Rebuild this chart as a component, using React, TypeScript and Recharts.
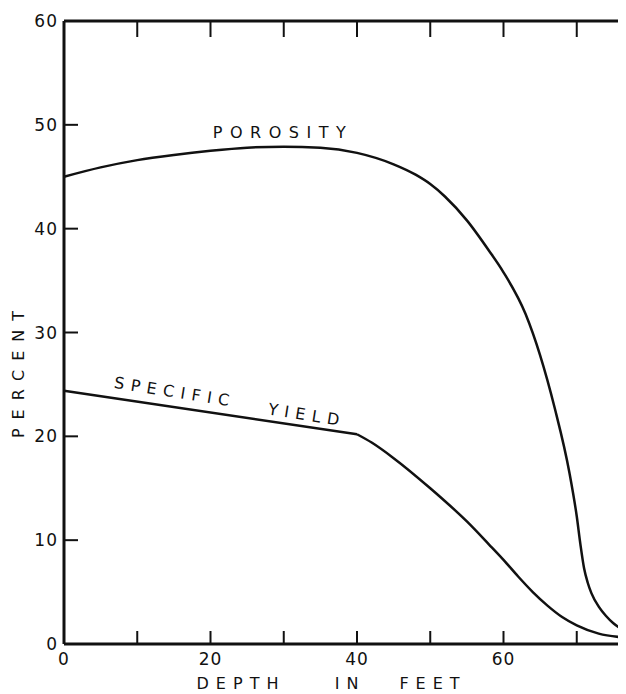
import { LineChart, Line, XAxis, YAxis } from "recharts";

const INK = "#111";
const FONT = "'DejaVu Sans', sans-serif";

// depth in feet vs percent
const porosityDepth = [0, 5, 10, 15, 20, 25, 30, 35, 40, 45, 48, 50, 52, 55, 58, 60, 63, 65, 67, 69, 70, 70.5, 71, 71.5, 72, 73, 74, 75, 76, 77];
const porosityPct = [45, 45.9, 46.6, 47.1, 47.5, 47.8, 47.9, 47.8, 47.3, 46.2, 45.2, 44.3, 43.1, 40.8, 37.9, 35.8, 31.8, 27.8, 22.7, 16.5, 12.3, 9.6, 7.3, 5.9, 4.9, 3.6, 2.7, 2.0, 1.5, 1.2];

// specific yield: straight run to 40 ft, then the falling limb
const yieldUpperDepth = [0, 40];
const yieldUpperPct = [24.4, 20.2];
const yieldLowerDepth = [40, 42, 45, 50, 55, 58, 60, 62, 64, 66, 68, 70, 73, 77];
const yieldLowerPct = [20.2, 19.4, 17.9, 15.0, 11.8, 9.6, 8.1, 6.5, 5.0, 3.7, 2.6, 1.8, 1.0, 0.6];

const xTicks = [0, 10, 20, 30, 40, 50, 60, 70, 80];
const xLabeled = [0, 20, 40, 60];
const yTicks = [0, 10, 20, 30, 40, 50, 60];

const porosity = porosityDepth.map((d, i) => ({ depth: d, pct: porosityPct[i] }));
const yieldUpper = yieldUpperDepth.map((d, i) => ({ depth: d, pct: yieldUpperPct[i] }));
const yieldLower = yieldLowerDepth.map((d, i) => ({ depth: d, pct: yieldLowerPct[i] }));

function BottomTick(props: any) {
  const { x, y, payload } = props;
  return (
    <g>
      <line x1={x} y1={y} x2={x} y2={y - 13} stroke={INK} strokeWidth={2} />
      {xLabeled.includes(payload.value) && (
        <text x={x} y={y + 21} textAnchor="middle" fontSize={17} fontFamily={FONT} letterSpacing={1} fill={INK}>
          {payload.value}
        </text>
      )}
    </g>
  );
}

function TopTick(props: any) {
  const { x, y } = props;
  return <line x1={x} y1={y} x2={x} y2={y + 16} stroke={INK} strokeWidth={2} />;
}

function LeftTick(props: any) {
  const { x, y, payload } = props;
  return (
    <g>
      <line x1={x} y1={y} x2={x + 14} y2={y} stroke={INK} strokeWidth={2} />
      <text x={x - 6} y={y + 6} textAnchor="end" fontSize={17} fontFamily={FONT} letterSpacing={1} fill={INK}>
        {payload.value}
      </text>
    </g>
  );
}

function RightTick(props: any) {
  const { x, y } = props;
  return <line x1={x} y1={y} x2={x - 14} y2={y} stroke={INK} strokeWidth={2} />;
}

const labelStyle = { fontFamily: FONT, fill: INK, fontSize: 16 };

export default function App() {
  return (
    <div style={{ position: "relative", width: 618, height: 686, overflow: "hidden", background: "#fff" }}>
      <LineChart width={660} height={686} margin={{ top: 12, right: 17, left: 55, bottom: 49 }}>
        <XAxis
          xAxisId="bottom"
          dataKey="depth"
          type="number"
          domain={[0, 80]}
          ticks={xTicks}
          height={1}
          tickSize={0}
          tickMargin={0}
          tick={<BottomTick />}
          axisLine={{ stroke: INK, strokeWidth: 3 }}
          interval={0}
        />
        <XAxis
          xAxisId="top"
          orientation="top"
          dataKey="depth"
          type="number"
          domain={[0, 80]}
          ticks={xTicks}
          height={1}
          tickSize={0}
          tickMargin={0}
          tick={<TopTick />}
          axisLine={{ stroke: INK, strokeWidth: 3 }}
          interval={0}
        />
        <YAxis
          yAxisId="left"
          type="number"
          domain={[0, 60]}
          ticks={yTicks}
          width={1}
          tickSize={0}
          tickMargin={0}
          tick={<LeftTick />}
          axisLine={{ stroke: INK, strokeWidth: 3 }}
          interval={0}
        />
        <YAxis
          yAxisId="right"
          orientation="right"
          type="number"
          domain={[0, 60]}
          ticks={yTicks}
          width={1}
          tickSize={0}
          tickMargin={0}
          tick={<RightTick />}
          axisLine={{ stroke: INK, strokeWidth: 3 }}
          interval={0}
        />
        <Line
          xAxisId="bottom"
          yAxisId="left"
          data={porosity}
          dataKey="pct"
          type="monotone"
          stroke={INK}
          strokeWidth={2.5}
          dot={false}
          isAnimationActive={false}
        />
        <Line
          xAxisId="bottom"
          yAxisId="left"
          data={yieldUpper}
          dataKey="pct"
          type="linear"
          stroke={INK}
          strokeWidth={2.5}
          dot={false}
          isAnimationActive={false}
        />
        <Line
          xAxisId="bottom"
          yAxisId="left"
          data={yieldLower}
          dataKey="pct"
          type="monotone"
          stroke={INK}
          strokeWidth={2.5}
          dot={false}
          isAnimationActive={false}
        />
        <Line
          xAxisId="top"
          yAxisId="right"
          data={porosity}
          dataKey="pct"
          stroke="none"
          dot={false}
          isAnimationActive={false}
        />
      </LineChart>
      <svg width={618} height={686} style={{ position: "absolute", left: 0, top: 0, pointerEvents: "none" }}>
        <text x={275} y={124} textAnchor="middle" dominantBaseline="central" letterSpacing={7.5} {...labelStyle}>
          POROSITY
        </text>
        <text
          x={167}
          y={384}
          textAnchor="middle"
          dominantBaseline="central"
          letterSpacing={6.5}
          transform="rotate(9 167 384)"
          {...labelStyle}
        >
          SPECIFIC
        </text>
        <text
          x={299}
          y={407}
          textAnchor="middle"
          dominantBaseline="central"
          letterSpacing={6.5}
          transform="rotate(9 299 407)"
          {...labelStyle}
        >
          YIELD
        </text>
        <text
          x={10}
          y={362}
          textAnchor="middle"
          dominantBaseline="central"
          letterSpacing={9}
          transform="rotate(-90 10 362)"
          {...labelStyle}
        >
          PERCENT
        </text>
        <text x={233} y={675} textAnchor="middle" dominantBaseline="central" letterSpacing={7} {...labelStyle}>
          DEPTH
        </text>
        <text x={342} y={675} textAnchor="middle" dominantBaseline="central" letterSpacing={7} {...labelStyle}>
          IN
        </text>
        <text x={425} y={675} textAnchor="middle" dominantBaseline="central" letterSpacing={7} {...labelStyle}>
          FEET
        </text>
      </svg>
    </div>
  );
}
